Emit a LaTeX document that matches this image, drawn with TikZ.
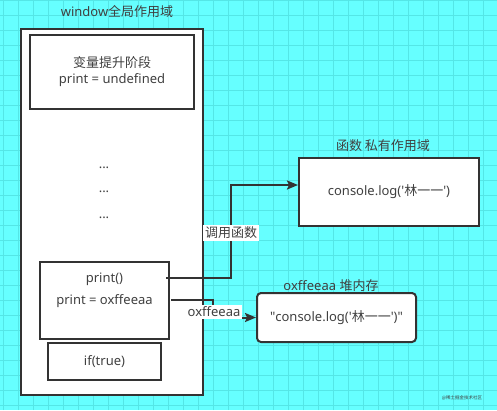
\documentclass[tikz,border=0pt]{standalone}
\usepackage{fontspec}
\setmainfont{Noto Sans}
\newfontfamily\cjk{Noto Sans CJK SC}
\usetikzlibrary{arrows.meta, positioning}
\definecolor{bgcyan}{RGB}{102,255,255}
\definecolor{gridcyan}{RGB}{84,230,230}
\definecolor{linegray}{RGB}{51,51,51}
\definecolor{textgray}{RGB}{64,64,64}
\newcommand{\sq}{\textquotesingle}

\begin{document}
\begin{tikzpicture}[x=1pt, y=-1pt,
    box/.style={draw=linegray, line width=2pt, fill=white, inner sep=0pt},
    lbl/.style={text=textgray, font=\fontsize{13}{16}\selectfont, inner sep=1pt},
    link/.style={draw=linegray, line width=2pt, -{Stealth[length=11pt, width=9pt, inset=2pt]}},
    tag/.style={lbl, fill=white, inner sep=2pt}]
    % Background and grid
    \useasboundingbox (0,0) rectangle (497,410);
    \fill[bgcyan] (0,0) rectangle (497,410);
    \draw[gridcyan, line width=0.8pt, xshift=3pt, step=15pt] (-3,0) grid (497,410);

    % Global scope
    \node[lbl] (wintitle) at (117,12) {window{\cjk 全局作用域}};
    \node[box, minimum width=182pt, minimum height=366pt] (window) at (112,212) {};
    \node[box, minimum width=164pt, minimum height=74pt, align=center, lbl, inner sep=0pt] (hoist) at (112,72)
        {{\cjk 变量提升阶段}\\print = undefined};
    \node[lbl] (dots1) at (104,168) {...};
    \node[lbl] (dots2) at (104,192) {...};
    \node[lbl] (dots3) at (104,218) {...};
    \node[box, minimum width=129pt, minimum height=77pt] (call) at (104.5,300.5) {};
    \node[lbl] (calltxt) at (104.5,279) {print()};
    \node[lbl] (assign) at (104.5,301) {print = oxffeeaa};
    \node[box, minimum width=113pt, minimum height=37pt, lbl, inner sep=0pt] (iftrue) at (104.5,361.5) {if(true)};

    % Function scope
    \node[lbl] (functitle) at (383,146) {\cjk 函数 私有作用域};
    \node[box, minimum width=180pt, minimum height=68pt, lbl, inner sep=0pt] (func) at (389,192)
        {console.log(\sq{\cjk 林一一}\sq)};

    % Heap memory
    \node[lbl] (heaptitle) at (331,286) {oxffeeaa {\cjk 堆内存}};
    \node[box, rounded corners=4pt, minimum width=159pt, minimum height=49pt, lbl, inner sep=0pt] (heap) at (336.5,317.5)
        {\textquotedbl console.log(\sq{\cjk 林一一}\sq)\textquotedbl};

    % Connectors
    \coordinate (callout) at (166,278);
    \coordinate (refout) at (171,300);
    \draw[link] (callout) -- ++(65,0) |- ([yshift=7pt]func.west);
    \node[tag] (calltag) at (231,233) {\cjk 调用函数};
    \draw[link] (refout) -- ++(42,0) |- (heap.west);
    \node[tag] (reftag) at (214,312) {oxffeeaa};

    % Watermark
    \node[text=textgray, font=\fontsize{4.5}{5}\selectfont\cjk] (mark) at (462,398) {@稀土掘金技术社区};
\end{tikzpicture}
\end{document}
